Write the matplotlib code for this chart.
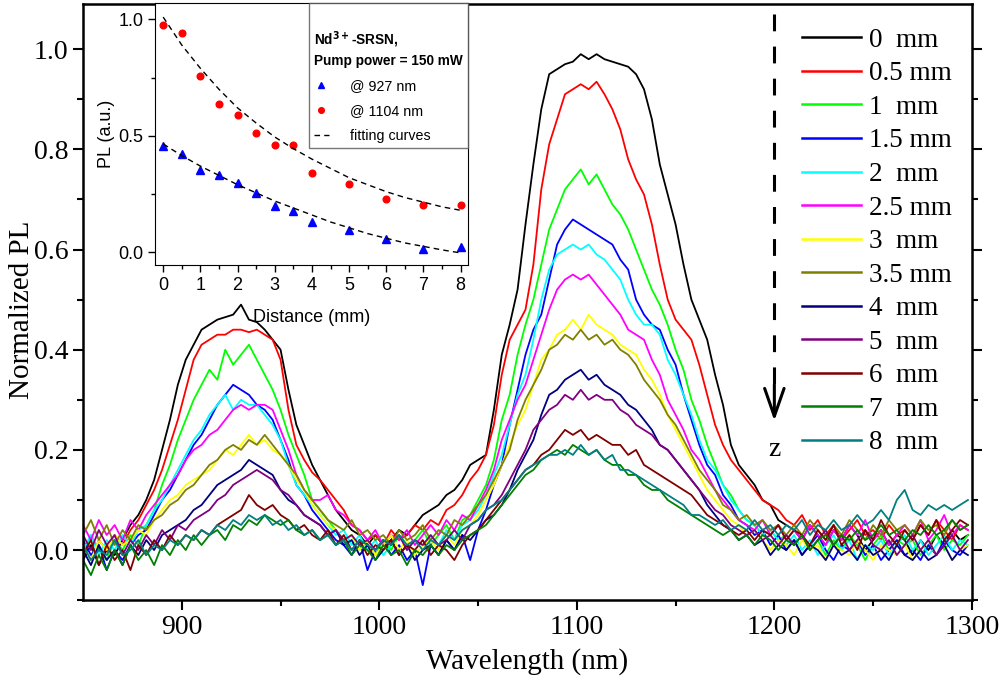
import matplotlib
matplotlib.use("Agg")
import matplotlib.pyplot as plt
import numpy as np

# wavelength grid (nm)
wavelength = np.arange(850, 1299, 4)

# PL spectra at different distances (normalized)
pl_0mm = [
    -0.02, 0.01, -0.03, 0.00, -0.01, 0.02, 0.05, 0.07, 0.10, 0.14, 0.20, 0.26, 0.33, 0.38, 0.41,
    0.44, 0.45, 0.46, 0.465, 0.47, 0.49, 0.46, 0.455, 0.44, 0.42, 0.40, 0.32, 0.25, 0.21, 0.17,
    0.14, 0.11, 0.08, 0.06, 0.04, 0.03, 0.01, 0.03, 0.01, 0.02, 0.04, 0.03, 0.05, 0.07, 0.08,
    0.09, 0.11, 0.12, 0.14, 0.17, 0.18, 0.19, 0.28, 0.39, 0.45, 0.52, 0.65, 0.77, 0.88, 0.95,
    0.96, 0.97, 0.975, 0.99, 0.98, 0.99, 0.98, 0.975, 0.97, 0.965, 0.95, 0.92, 0.86, 0.77, 0.71,
    0.65, 0.57, 0.50, 0.46, 0.42, 0.35, 0.29, 0.21, 0.17, 0.15, 0.13, 0.10, 0.09, 0.06, 0.05,
    0.04, 0.02, 0.05, 0.03, 0.01, 0.04, 0.02, 0.05, 0.03, 0.00, 0.02, 0.04, 0.01, 0.03, 0.02,
    -0.01, 0.02, 0.00, 0.03, 0.01, 0.04, 0.02, 0.03]
pl_05mm = [
    0.01, -0.02, 0.02, 0.00, 0.03, 0.01, 0.04, 0.06, 0.09, 0.12, 0.16, 0.21, 0.26, 0.32, 0.38,
    0.41, 0.42, 0.43, 0.43, 0.44, 0.44, 0.435, 0.44, 0.43, 0.42, 0.38, 0.28, 0.21, 0.18, 0.155,
    0.14, 0.12, 0.10, 0.08, 0.05, 0.04, 0.02, 0.03, 0.01, 0.04, 0.02, 0.03, 0.05, 0.04, 0.06,
    0.05, 0.08, 0.09, 0.11, 0.14, 0.16, 0.19, 0.25, 0.35, 0.42, 0.45, 0.48, 0.57, 0.72, 0.81,
    0.86, 0.91, 0.92, 0.93, 0.92, 0.935, 0.91, 0.88, 0.84, 0.78, 0.74, 0.71, 0.65, 0.57, 0.50,
    0.46, 0.44, 0.42, 0.37, 0.31, 0.25, 0.21, 0.18, 0.16, 0.14, 0.12, 0.10, 0.09, 0.08, 0.06,
    0.05, 0.07, 0.04, 0.06, 0.03, 0.05, 0.02, 0.04, 0.06, 0.03, 0.04, 0.02, 0.05, 0.03, 0.04,
    0.02, 0.05, 0.03, 0.06, 0.04, 0.02, 0.05, 0.04]
pl_1mm = [
    -0.01, 0.03, 0.00, -0.02, 0.02, 0.00, 0.03, 0.01, 0.05, 0.08, 0.13, 0.17, 0.22, 0.26, 0.30,
    0.33, 0.36, 0.34, 0.40, 0.37, 0.39, 0.41, 0.38, 0.35, 0.32, 0.28, 0.23, 0.19, 0.15, 0.10,
    0.08, 0.06, 0.04, 0.02, 0.03, 0.00, 0.02, -0.01, 0.02, 0.00, 0.03, 0.01, 0.02, 0.04, 0.01,
    0.03, 0.05, 0.02, 0.06, 0.07, 0.10, 0.13, 0.18, 0.26, 0.31, 0.39, 0.45, 0.50, 0.57, 0.64,
    0.68, 0.72, 0.74, 0.76, 0.73, 0.75, 0.72, 0.69, 0.67, 0.64, 0.60, 0.56, 0.52, 0.49, 0.45,
    0.40, 0.36, 0.30, 0.26, 0.21, 0.17, 0.13, 0.11, 0.08, 0.06, 0.05, 0.03, 0.04, 0.02, 0.03,
    0.01, 0.03, 0.00, 0.02, -0.01, 0.02, 0.00, 0.03, 0.01, -0.02, 0.01, 0.03, 0.00, 0.02, 0.01,
    0.02, -0.01, 0.01, 0.03, 0.00, 0.02, 0.01, 0.03]
pl_15mm = [
    0.02, -0.01, 0.01, -0.04, 0.00, -0.02, 0.01, 0.03, 0.04, 0.07, 0.10, 0.12, 0.15, 0.18, 0.21,
    0.23, 0.26, 0.29, 0.31, 0.33, 0.32, 0.31, 0.29, 0.28, 0.26, 0.22, 0.18, 0.13, 0.11, 0.08,
    0.06, 0.04, 0.02, 0.01, -0.01, 0.02, -0.04, 0.00, 0.02, -0.01, 0.01, -0.02, 0.00, -0.07, 0.01,
    -0.01, 0.02, 0.00, 0.03, -0.02, 0.04, 0.08, 0.13, 0.17, 0.25, 0.32, 0.39, 0.44, 0.47, 0.54,
    0.61, 0.64, 0.66, 0.65, 0.64, 0.63, 0.62, 0.61, 0.58, 0.56, 0.50, 0.47, 0.45, 0.44, 0.40,
    0.37, 0.31, 0.26, 0.21, 0.17, 0.15, 0.11, 0.09, 0.06, 0.05, 0.03, 0.04, 0.01, 0.03, 0.00,
    0.02, -0.01, 0.01, 0.03, 0.00, -0.02, 0.01, 0.00, 0.02, -0.01, 0.01, -0.02, 0.00, 0.02, -0.01,
    0.00, -0.02, 0.01, -0.01, 0.02, 0.00, -0.01, 0.01]
pl_2mm = [
    0.00, 0.03, -0.01, 0.02, 0.00, 0.03, 0.01, 0.04, 0.05, 0.08, 0.10, 0.13, 0.16, 0.19, 0.22,
    0.24, 0.27, 0.29, 0.31, 0.28, 0.30, 0.29, 0.29, 0.27, 0.25, 0.22, 0.17, 0.13, 0.11, 0.09,
    0.07, 0.05, 0.03, 0.04, 0.01, 0.03, 0.00, 0.02, -0.01, 0.01, 0.03, 0.00, 0.02, 0.01, 0.03,
    0.01, 0.04, 0.02, 0.05, 0.06, 0.08, 0.11, 0.15, 0.19, 0.25, 0.31, 0.35, 0.42, 0.50, 0.56,
    0.59, 0.60, 0.61, 0.60, 0.61, 0.59, 0.58, 0.56, 0.54, 0.50, 0.47, 0.45, 0.45, 0.43, 0.38,
    0.35, 0.31, 0.27, 0.22, 0.18, 0.16, 0.13, 0.10, 0.08, 0.06, 0.05, 0.03, 0.04, 0.02, 0.01,
    0.03, 0.00, 0.02, -0.01, 0.01, 0.03, 0.00, 0.02, -0.02, 0.01, 0.00, 0.02, -0.01, 0.01, 0.03,
    0.00, 0.02, -0.01, 0.01, 0.03, 0.00, 0.02, 0.01]
pl_25mm = [
    0.05, 0.02, 0.06, 0.03, 0.05, 0.02, 0.06, 0.04, 0.07, 0.09, 0.11, 0.13, 0.15, 0.18, 0.20,
    0.21, 0.23, 0.24, 0.26, 0.28, 0.29, 0.28, 0.29, 0.29, 0.28, 0.24, 0.20, 0.15, 0.12, 0.10,
    0.10, 0.11, 0.08, 0.07, 0.05, 0.04, 0.02, 0.04, 0.01, 0.03, 0.02, 0.04, 0.01, 0.03, 0.05,
    0.03, 0.06, 0.04, 0.07, 0.06, 0.09, 0.12, 0.16, 0.22, 0.26, 0.30, 0.33, 0.38, 0.43, 0.48,
    0.52, 0.54, 0.55, 0.54, 0.55, 0.53, 0.51, 0.49, 0.47, 0.44, 0.43, 0.42, 0.38, 0.35, 0.30,
    0.27, 0.24, 0.20, 0.18, 0.15, 0.12, 0.10, 0.08, 0.06, 0.05, 0.04, 0.06, 0.03, 0.05, 0.02,
    0.04, 0.02, 0.05, 0.03, 0.01, 0.04, 0.02, 0.05, 0.03, 0.06, 0.02, 0.04, 0.01, 0.03, 0.05,
    0.03, 0.06, 0.02, 0.04, 0.07, 0.03, 0.05, 0.04]
pl_3mm = [
    0.01, -0.02, 0.02, 0.00, 0.03, 0.01, 0.02, 0.04, 0.03, 0.06, 0.08, 0.10, 0.11, 0.13, 0.14,
    0.15, 0.16, 0.18, 0.20, 0.19, 0.21, 0.23, 0.21, 0.22, 0.20, 0.19, 0.17, 0.14, 0.12, 0.09,
    0.07, 0.05, 0.04, 0.02, 0.03, 0.00, 0.02, -0.01, 0.01, 0.03, 0.00, 0.02, -0.01, 0.01, 0.02,
    0.00, 0.03, 0.01, 0.04, 0.05, 0.07, 0.10, 0.13, 0.17, 0.21, 0.25, 0.28, 0.33, 0.38, 0.40,
    0.43, 0.44, 0.46, 0.44, 0.47, 0.45, 0.44, 0.43, 0.41, 0.40, 0.39, 0.36, 0.34, 0.31, 0.27,
    0.24, 0.21, 0.18, 0.15, 0.12, 0.10, 0.08, 0.06, 0.05, 0.03, 0.04, 0.02, 0.00, 0.02, 0.01,
    -0.01, 0.02, 0.00, 0.01, -0.02, 0.01, 0.00, -0.01, 0.02, 0.00, -0.02, 0.01, 0.00, -0.01, 0.01,
    -0.02, 0.00, 0.02, -0.01, 0.01, -0.02, 0.00, 0.01]
pl_35mm = [
    0.03, 0.06, 0.02, 0.05, 0.01, 0.04, 0.02, 0.05, 0.04, 0.06, 0.07, 0.09, 0.10, 0.12, 0.13,
    0.15, 0.17, 0.18, 0.20, 0.21, 0.20, 0.22, 0.21, 0.23, 0.21, 0.19, 0.17, 0.15, 0.12, 0.10,
    0.08, 0.06, 0.05, 0.04, 0.06, 0.03, 0.04, 0.02, 0.03, 0.01, 0.04, 0.02, 0.03, 0.05, 0.02,
    0.04, 0.03, 0.06, 0.05, 0.07, 0.09, 0.11, 0.14, 0.17, 0.20, 0.26, 0.30, 0.33, 0.36, 0.40,
    0.41, 0.43, 0.42, 0.44, 0.42, 0.43, 0.41, 0.42, 0.40, 0.39, 0.37, 0.34, 0.32, 0.30, 0.27,
    0.25, 0.22, 0.19, 0.16, 0.14, 0.12, 0.09, 0.08, 0.06, 0.07, 0.05, 0.06, 0.04, 0.05, 0.03,
    0.05, 0.03, 0.06, 0.04, 0.02, 0.05, 0.03, 0.06, 0.04, 0.02, 0.05, 0.03, 0.06, 0.04, 0.05,
    0.03, 0.06, 0.04, 0.05, 0.03, 0.06, 0.04, 0.05]
pl_4mm = [
    0.00, -0.03, 0.01, -0.02, 0.00, -0.03, 0.01, -0.01, 0.02, 0.00, 0.03, 0.04, 0.05, 0.06, 0.08,
    0.09, 0.11, 0.13, 0.14, 0.15, 0.16, 0.18, 0.17, 0.16, 0.15, 0.12, 0.10, 0.09, 0.07, 0.06,
    0.05, 0.03, 0.04, 0.01, 0.02, -0.01, 0.01, -0.02, 0.00, 0.02, -0.01, 0.01, -0.02, 0.00, 0.01,
    -0.01, 0.02, 0.00, 0.03, 0.02, 0.04, 0.06, 0.07, 0.09, 0.12, 0.16, 0.19, 0.22, 0.27, 0.31,
    0.32, 0.34, 0.35, 0.36, 0.34, 0.35, 0.33, 0.32, 0.31, 0.29, 0.28, 0.26, 0.24, 0.21, 0.20,
    0.18, 0.16, 0.14, 0.12, 0.09, 0.07, 0.05, 0.04, 0.02, 0.03, 0.01, 0.02, -0.01, 0.01, 0.00,
    0.02, -0.01, 0.01, 0.00, -0.02, 0.01, -0.01, 0.00, -0.02, 0.01, -0.01, 0.00, -0.02, 0.01, -0.01,
    -0.02, 0.00, -0.02, -0.01, 0.01, -0.02, 0.00, -0.01]
pl_5mm = [
    0.03, 0.00, 0.04, 0.01, 0.03, -0.01, 0.02, 0.00, 0.03, 0.01, 0.04, 0.02, 0.05, 0.04, 0.06,
    0.07, 0.08, 0.10, 0.11, 0.13, 0.14, 0.15, 0.16, 0.15, 0.14, 0.12, 0.11, 0.09, 0.07, 0.06,
    0.05, 0.03, 0.04, 0.02, 0.03, 0.01, 0.02, 0.00, 0.02, 0.01, 0.03, 0.00, 0.02, 0.01, 0.03,
    0.01, 0.02, 0.04, 0.02, 0.05, 0.06, 0.08, 0.09, 0.11, 0.14, 0.17, 0.20, 0.24, 0.26, 0.28,
    0.29, 0.31, 0.30, 0.32, 0.30, 0.31, 0.30, 0.30, 0.28, 0.27, 0.25, 0.24, 0.23, 0.21, 0.20,
    0.18, 0.16, 0.14, 0.12, 0.10, 0.08, 0.07, 0.05, 0.04, 0.03, 0.04, 0.02, 0.03, 0.01, 0.03,
    0.01, 0.03, 0.00, 0.02, 0.04, 0.01, 0.03, 0.00, 0.02, 0.04, 0.01, 0.00, 0.02, -0.01, 0.01,
    0.03, 0.00, 0.02, -0.01, 0.01, 0.03, 0.00, 0.02]
pl_6mm = [
    -0.01, 0.02, -0.03, 0.01, -0.02, 0.00, -0.04, 0.01, -0.01, 0.02, 0.00, 0.03, 0.01, 0.03, 0.02,
    0.04, 0.03, 0.05, 0.06, 0.07, 0.08, 0.11, 0.09, 0.08, 0.09, 0.07, 0.06, 0.04, 0.05, 0.03,
    0.02, 0.04, 0.01, 0.03, 0.00, 0.02, -0.01, 0.01, 0.00, 0.02, -0.01, 0.01, 0.00, 0.02, -0.01,
    0.01, 0.00, -0.02, 0.01, 0.03, 0.04, 0.06, 0.08, 0.10, 0.12, 0.14, 0.16, 0.17, 0.19, 0.20,
    0.22, 0.24, 0.23, 0.24, 0.22, 0.23, 0.22, 0.21, 0.21, 0.19, 0.20, 0.17, 0.16, 0.15, 0.14,
    0.13, 0.12, 0.11, 0.09, 0.07, 0.06, 0.05, 0.04, 0.03, 0.04, 0.02, 0.04, 0.03, 0.05, 0.02,
    0.04, 0.03, 0.01, 0.04, 0.02, 0.05, 0.01, 0.03, 0.00, 0.04, 0.02, 0.06, 0.03, 0.01, 0.04,
    0.02, 0.05, 0.03, 0.06, 0.02, 0.04, 0.06, 0.05]
pl_7mm = [
    -0.02, -0.05, -0.01, -0.04, 0.00, -0.03, 0.01, -0.02, 0.00, -0.03, 0.01, -0.01, 0.02, 0.00, 0.03,
    0.01, 0.03, 0.04, 0.02, 0.05, 0.04, 0.06, 0.05, 0.07, 0.06, 0.05, 0.06, 0.04, 0.03, 0.04,
    0.02, 0.03, 0.01, 0.02, -0.01, 0.01, 0.00, -0.02, 0.01, -0.01, 0.00, -0.03, 0.00, -0.01, 0.01,
    -0.01, 0.01, 0.00, 0.02, 0.03, 0.04, 0.05, 0.07, 0.09, 0.11, 0.13, 0.15, 0.16, 0.18, 0.19,
    0.20, 0.19, 0.21, 0.20, 0.19, 0.20, 0.18, 0.17, 0.17, 0.15, 0.15, 0.13, 0.12, 0.12, 0.10,
    0.09, 0.08, 0.07, 0.06, 0.05, 0.04, 0.03, 0.04, 0.02, 0.03, 0.01, 0.03, 0.02, 0.00, 0.02,
    0.01, 0.03, 0.00, 0.02, 0.03, 0.01, 0.03, 0.02, 0.04, 0.02, 0.03, 0.05, 0.03, 0.04, 0.02,
    0.04, 0.03, 0.05, 0.03, 0.04, 0.06, 0.04, 0.05]
pl_8mm = [
    0.01, -0.02, 0.00, -0.01, 0.02, -0.01, 0.00, 0.02, -0.01, 0.01, 0.00, 0.02, 0.01, 0.03, 0.02,
    0.04, 0.03, 0.05, 0.04, 0.06, 0.05, 0.07, 0.06, 0.07, 0.05, 0.06, 0.04, 0.05, 0.03, 0.04,
    0.02, 0.03, 0.01, 0.02, 0.00, 0.02, 0.01, 0.00, 0.02, 0.01, 0.03, 0.01, 0.02, 0.00, 0.02,
    0.01, 0.03, 0.02, 0.04, 0.05, 0.06, 0.08, 0.09, 0.10, 0.12, 0.14, 0.16, 0.17, 0.18, 0.19,
    0.19, 0.20, 0.19, 0.21, 0.19, 0.20, 0.18, 0.19, 0.16, 0.16, 0.15, 0.14, 0.13, 0.12, 0.11,
    0.10, 0.09, 0.07, 0.07, 0.06, 0.05, 0.06, 0.04, 0.05, 0.04, 0.06, 0.04, 0.05, 0.03, 0.05,
    0.04, 0.06, 0.03, 0.05, 0.04, 0.06, 0.04, 0.05, 0.07, 0.05, 0.06, 0.08, 0.06, 0.10, 0.12,
    0.08, 0.07, 0.09, 0.08, 0.09, 0.08, 0.09, 0.10]

spectra = [pl_0mm, pl_05mm, pl_1mm, pl_15mm, pl_2mm, pl_25mm, pl_3mm,
           pl_35mm, pl_4mm, pl_5mm, pl_6mm, pl_7mm, pl_8mm]
labels = ["0  mm", "0.5 mm", "1  mm", "1.5 mm", "2  mm", "2.5 mm", "3  mm",
          "3.5 mm", "4  mm", "5  mm", "6  mm", "7  mm", "8  mm"]
colors = ["#000000", "#ff0000", "#00ff00", "#0000ff", "#00ffff", "#ff00ff", "#ffff00",
          "#808000", "#000080", "#800080", "#800000", "#008000", "#008080"]

# inset data: peak PL vs distance
distance = [0, 0.5, 1, 1.5, 2, 2.5, 3, 3.5, 4, 5, 6, 7, 8]
pl_927 = [0.455, 0.423, 0.353, 0.333, 0.298, 0.255, 0.199, 0.178, 0.131, 0.096, 0.055, 0.013, 0.023]
pl_1104 = [0.978, 0.943, 0.756, 0.638, 0.590, 0.511, 0.462, 0.462, 0.340, 0.293, 0.227, 0.201, 0.201]
fit_x = [0, 0.5, 1, 1.5, 2, 2.5, 3, 3.5, 4, 4.5, 5, 5.5, 6, 6.5, 7, 7.5, 8]
fit_927 = [0.465, 0.415, 0.37, 0.33, 0.29, 0.255, 0.22, 0.19, 0.16, 0.13, 0.105, 0.08, 0.06, 0.04, 0.025, 0.01, -0.003]
fit_1104 = [1.01, 0.89, 0.79, 0.70, 0.62, 0.555, 0.495, 0.445, 0.40, 0.36, 0.32, 0.29, 0.26, 0.235, 0.215, 0.195, 0.18]

serif = "Liberation Serif"
sans = "Liberation Sans"

fig = plt.figure(figsize=(10.04, 6.82), dpi=100)
ax = fig.add_axes([0.0827, 0.12, 0.8853, 0.874])

for y, label, color in zip(spectra, labels, colors):
    ax.plot(wavelength, y, color=color, lw=1.3, label=label)

ax.set_xlim(850, 1300)
ax.set_ylim(-0.1, 1.09)
ax.set_xticks([900, 1000, 1100, 1200, 1300])
ax.set_xticks([950, 1050, 1150, 1250], minor=True)
ax.set_yticks([0.0, 0.2, 0.4, 0.6, 0.8, 1.0])
ax.set_yticks([-0.1, 0.1, 0.3, 0.5, 0.7, 0.9], minor=True)
ax.set_yticklabels(["0.0", "0.2", "0.4", "0.6", "0.8", "1.0"])
ax.tick_params(axis="both", which="both", direction="out", width=1.5, labelsize=20, right=True)
ax.tick_params(which="major", length=7)
ax.tick_params(which="minor", length=4)
for lab in ax.get_xticklabels() + ax.get_yticklabels():
    lab.set_fontfamily(serif)
for sp in ax.spines.values():
    sp.set_linewidth(1.8)
ax.set_xlabel("Wavelength (nm)", fontsize=21, family=serif, labelpad=6)
ax.set_ylabel("Normalized PL", fontsize=21, family=serif)
ax.yaxis.set_label_coords(-0.054, 0.487)

leg = ax.legend(loc="upper left", bbox_to_anchor=(0.785, 0.979), bbox_transform=fig.transFigure,
                frameon=False, prop={"family": serif, "size": 19.5}, handlelength=2.2,
                handletextpad=0.3, labelspacing=0.315, borderpad=0)
for line in leg.get_lines():
    line.set_linewidth(1.8)

# dashed z arrow
ax.plot([1200, 1200], [1.07, 0.32], color="black", lw=2.2, dashes=(5.5, 5))
ax.annotate("", xy=(1200, 0.258), xytext=(1200, 0.33),
            arrowprops=dict(arrowstyle="->,head_length=2.0,head_width=0.7", lw=2.2, color="black",
                            shrinkA=0, shrinkB=0))
ax.text(1200, 0.2, "z", ha="center", va="center", fontsize=20, family=serif)

# inset
axin = fig.add_axes([0.1544, 0.6114, 0.3118, 0.384])
axin.plot(distance, pl_927, "^", color="#0000ff", ms=5.5, label="@ 927 nm")
axin.plot(distance, pl_1104, "o", color="#ff0000", ms=4.8, label="@ 1104 nm")
axin.plot(fit_x, fit_1104, color="black", lw=1, dashes=(4, 3), label="fitting curves")
axin.plot(fit_x, fit_927, color="black", lw=1, dashes=(4, 3))
axin.set_xlim(-0.22, 8.2)
axin.set_ylim(-0.055, 1.07)
axin.set_xticks(range(0, 9))
axin.set_xticks(np.arange(0.5, 8, 1), minor=True)
axin.set_yticks([0.0, 0.5, 1.0])
axin.set_yticks([0.25, 0.75], minor=True)
axin.set_yticklabels(["0.0", "0.5", "1.0"])
axin.tick_params(axis="both", which="both", direction="out", labelsize=13, width=1)
axin.tick_params(which="major", length=5)
axin.tick_params(which="minor", length=3)
for lab in axin.get_xticklabels() + axin.get_yticklabels():
    lab.set_fontfamily(sans)
axin.set_xlabel("Distance (mm)", fontsize=13, family=sans, labelpad=11)
axin.set_ylabel("PL (a.u.)", fontsize=13, family=sans, labelpad=2)

ileg = axin.legend(loc="upper right", borderaxespad=0, fancybox=False, edgecolor="#555555",
                   title="\nNd$^{\\mathbf{3+}}$-SRSN,\nPump power = 150 mW",
                   title_fontproperties={"family": sans, "weight": "bold", "size": 9.8},
                   prop={"family": sans, "size": 10.3}, alignment="left", markerscale=0.85,
                   handlelength=1.0, handletextpad=1.5, labelspacing=0.75, borderpad=0.35)
ileg.get_title().set_linespacing(1.45)
ileg.get_frame().set_linewidth(1)

fig.savefig("out.png", dpi=100)
